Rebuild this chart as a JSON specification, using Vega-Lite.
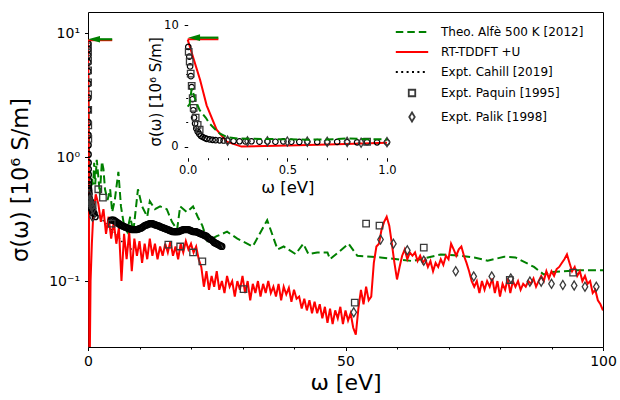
{
  "$schema": "https://vega.github.io/schema/vega-lite/v6.json",
  "width": 515,
  "height": 335,
  "autosize": {"type": "none"},
  "padding": {"left": 88, "top": 12, "right": 17, "bottom": 53},
  "config": {
    "font": "DejaVu Sans",
    "background": "white",
    "view": {"stroke": "black", "strokeWidth": 1},
    "axis": {"grid": false, "domain": false, "tickColor": "black", "tickWidth": 1, "labelColor": "black", "titleColor": "black", "titleFontWeight": "normal", "labelFont": "DejaVu Sans", "titleFont": "DejaVu Sans", "zindex": 1, "labelFlush": false, "labelOverlap": false},
    "legend": {"labelFont": "DejaVu Sans", "labelColor": "black"}
  },
  "datasets": {
    "red": [
      {"x":0,"s":8.8},{"x":0.03,"s":7.2},{"x":0.062,"s":5.5},{"x":0.095,"s":3.4},{"x":0.145,"s":1.4},{"x":0.196,"s":0.41},{"x":0.27,"s":0.012},{"x":0.5,"s":0.1},{"x":0.75,"s":0.2},{"x":1.0,"s":0.33},
      {"x":1.5,"s":0.5},{"x":2,"s":0.42},{"x":2.5,"s":0.3},{"x":3,"s":0.38},{"x":3.5,"s":0.24},{"x":4,"s":0.33},{"x":4.5,"s":0.22},{"x":5,"s":0.3},{"x":5.5,"s":0.2},{"x":6,"s":0.27},
      {"x":6.5,"s":0.1},{"x":7,"s":0.24},{"x":7.5,"s":0.15},{"x":8,"s":0.25},{"x":8.5,"s":0.12},{"x":9,"s":0.22},{"x":9.5,"s":0.16},{"x":10,"s":0.21},{"x":10.5,"s":0.14},{"x":11,"s":0.2},
      {"x":11.5,"s":0.15},{"x":12,"s":0.22},{"x":12.5,"s":0.16},{"x":13,"s":0.2},{"x":13.5,"s":0.15},{"x":14,"s":0.19},{"x":14.5,"s":0.16},{"x":15,"s":0.2},{"x":15.5,"s":0.17},{"x":16,"s":0.21},
      {"x":16.5,"s":0.16},{"x":17,"s":0.19},{"x":17.5,"s":0.15},{"x":18,"s":0.2},{"x":18.5,"s":0.17},{"x":19,"s":0.21},{"x":19.5,"s":0.18},{"x":20,"s":0.2},{"x":20.5,"s":0.17},{"x":21,"s":0.19},
      {"x":21.5,"s":0.15},{"x":22,"s":0.13},{"x":22.5,"s":0.09},{"x":23,"s":0.12},{"x":23.5,"s":0.085},{"x":24,"s":0.11},{"x":24.5,"s":0.09},{"x":25,"s":0.12},{"x":25.5,"s":0.085},{"x":26,"s":0.1},
      {"x":26.5,"s":0.08},{"x":27,"s":0.11},{"x":27.5,"s":0.09},{"x":28,"s":0.1},{"x":28.5,"s":0.075},{"x":29,"s":0.1},{"x":29.5,"s":0.085},{"x":30,"s":0.11},{"x":30.5,"s":0.08},{"x":31,"s":0.1},
      {"x":31.5,"s":0.07},{"x":32,"s":0.095},{"x":32.5,"s":0.08},{"x":33,"s":0.1},{"x":33.5,"s":0.075},{"x":34,"s":0.095},{"x":34.5,"s":0.08},{"x":35,"s":0.1},{"x":35.5,"s":0.08},{"x":36,"s":0.09},
      {"x":36.5,"s":0.075},{"x":37,"s":0.095},{"x":37.5,"s":0.07},{"x":38,"s":0.09},{"x":38.5,"s":0.078},{"x":39,"s":0.088},{"x":39.5,"s":0.068},{"x":40,"s":0.085},{"x":40.5,"s":0.072},{"x":41,"s":0.075},
      {"x":41.5,"s":0.06},{"x":42,"s":0.072},{"x":42.5,"s":0.058},{"x":43,"s":0.07},{"x":43.5,"s":0.055},{"x":44,"s":0.068},{"x":44.5,"s":0.055},{"x":45,"s":0.065},{"x":45.5,"s":0.05},{"x":46,"s":0.062},
      {"x":46.5,"s":0.046},{"x":47,"s":0.06},{"x":47.5,"s":0.045},{"x":48,"s":0.058},{"x":48.5,"s":0.05},{"x":49,"s":0.062},{"x":49.5,"s":0.045},{"x":50,"s":0.058},{"x":50.5,"s":0.048},{"x":51,"s":0.055},
      {"x":51.5,"s":0.042},{"x":52,"s":0.037},{"x":52.5,"s":0.06},{"x":53,"s":0.085},{"x":53.5,"s":0.065},{"x":54,"s":0.09},{"x":54.5,"s":0.07},{"x":55,"s":0.075},{"x":55.5,"s":0.14},{"x":56,"s":0.19},
      {"x":56.5,"s":0.2},{"x":57,"s":0.26},{"x":57.5,"s":0.3},{"x":58,"s":0.33},{"x":58.5,"s":0.28},{"x":59,"s":0.2},{"x":59.5,"s":0.14},{"x":60,"s":0.103},{"x":60.5,"s":0.13},{"x":61,"s":0.16},
      {"x":61.5,"s":0.18},{"x":62,"s":0.15},{"x":62.5,"s":0.17},{"x":63,"s":0.16},{"x":63.5,"s":0.17},{"x":64,"s":0.145},{"x":64.5,"s":0.16},{"x":65,"s":0.14},{"x":65.5,"s":0.15},{"x":66,"s":0.13},
      {"x":66.5,"s":0.145},{"x":67,"s":0.12},{"x":67.5,"s":0.14},{"x":68,"s":0.13},{"x":68.5,"s":0.15},{"x":69,"s":0.135},{"x":69.5,"s":0.16},{"x":70,"s":0.15},{"x":70.5,"s":0.2},{"x":71,"s":0.18},
      {"x":71.5,"s":0.16},{"x":72,"s":0.18},{"x":72.5,"s":0.19},{"x":73,"s":0.16},{"x":73.5,"s":0.14},{"x":74,"s":0.12},{"x":74.5,"s":0.1},{"x":75,"s":0.09},{"x":75.5,"s":0.1},{"x":76,"s":0.08},
      {"x":76.5,"s":0.1},{"x":77,"s":0.085},{"x":77.5,"s":0.1},{"x":78,"s":0.09},{"x":78.5,"s":0.105},{"x":79,"s":0.08},{"x":79.5,"s":0.1},{"x":80,"s":0.075},{"x":80.5,"s":0.095},{"x":81,"s":0.085},
      {"x":81.5,"s":0.105},{"x":82,"s":0.08},{"x":82.5,"s":0.1},{"x":83,"s":0.09},{"x":83.5,"s":0.1},{"x":84,"s":0.085},{"x":84.5,"s":0.095},{"x":85,"s":0.09},{"x":85.5,"s":0.1},{"x":86,"s":0.095},
      {"x":86.5,"s":0.105},{"x":87,"s":0.09},{"x":87.5,"s":0.1},{"x":88,"s":0.11},{"x":88.5,"s":0.1},{"x":89,"s":0.12},{"x":89.5,"s":0.105},{"x":90,"s":0.12},{"x":90.5,"s":0.11},{"x":91,"s":0.125},
      {"x":91.5,"s":0.13},{"x":92,"s":0.14},{"x":92.5,"s":0.15},{"x":93,"s":0.164},{"x":93.5,"s":0.14},{"x":94,"s":0.12},{"x":94.5,"s":0.13},{"x":95,"s":0.11},{"x":95.5,"s":0.12},{"x":96,"s":0.1},
      {"x":96.5,"s":0.11},{"x":97,"s":0.095},{"x":97.5,"s":0.1},{"x":98,"s":0.08},{"x":98.5,"s":0.085},{"x":99,"s":0.07},{"x":99.5,"s":0.065},{"x":100,"s":0.058}
    ],
    "green": [
      {"x":0,"s":3.3},{"x":0.01,"s":3.5},{"x":0.02,"s":4.8},{"x":0.04,"s":3.8},{"x":0.06,"s":3.0},{"x":0.09,"s":2.4},{"x":0.11,"s":1.9},{"x":0.14,"s":1.4},{"x":0.16,"s":1.1},{"x":0.19,"s":0.85},
      {"x":0.21,"s":0.75},{"x":0.25,"s":0.68},{"x":0.3,"s":0.66},{"x":0.4,"s":0.63},{"x":0.5,"s":0.62},{"x":0.6,"s":0.58},{"x":0.7,"s":0.6},{"x":0.8,"s":0.68},{"x":0.9,"s":0.62},{"x":1.0,"s":0.6},
      {"x":1.2,"s":0.9},{"x":1.4,"s":0.6},{"x":1.7,"s":0.95},{"x":2.0,"s":0.7},{"x":2.3,"s":0.5},{"x":2.7,"s":0.92},{"x":3.0,"s":0.8},{"x":3.3,"s":0.55},{"x":3.8,"s":0.45},{"x":4.3,"s":0.55},
      {"x":4.7,"s":0.36},{"x":5.2,"s":0.45},{"x":5.9,"s":0.76},{"x":6.4,"s":0.4},{"x":7.0,"s":0.28},{"x":7.6,"s":0.25},{"x":8.2,"s":0.33},{"x":8.8,"s":0.25},{"x":9.7,"s":0.55},{"x":10.5,"s":0.4},
      {"x":11.5,"s":0.33},{"x":12.0,"s":0.44},{"x":13.0,"s":0.38},{"x":14.0,"s":0.4},{"x":15.3,"s":0.38},{"x":16.3,"s":0.3},{"x":17.3,"s":0.26},{"x":17.9,"s":0.4},{"x":19.2,"s":0.36},{"x":20.4,"s":0.4},
      {"x":21.3,"s":0.33},{"x":22.2,"s":0.28},{"x":23.2,"s":0.21},{"x":25.0,"s":0.23},{"x":27.0,"s":0.25},{"x":29.0,"s":0.22},{"x":32.0,"s":0.19},{"x":34.8,"s":0.31},{"x":36.8,"s":0.18},{"x":38.0,"s":0.19},
      {"x":40.3,"s":0.165},{"x":41.8,"s":0.2},{"x":42.8,"s":0.165},{"x":44.5,"s":0.17},{"x":46.5,"s":0.17},{"x":47.0,"s":0.15},{"x":50.6,"s":0.2},{"x":52.3,"s":0.16},{"x":56.8,"s":0.155},{"x":60.0,"s":0.15},
      {"x":63.0,"s":0.145},{"x":66.0,"s":0.155},{"x":68.5,"s":0.164},{"x":72.4,"s":0.16},{"x":75.0,"s":0.155},{"x":77.6,"s":0.146},{"x":80.8,"s":0.157},{"x":83.0,"s":0.155},{"x":86.6,"s":0.13},{"x":88.5,"s":0.113},
      {"x":90.0,"s":0.118},{"x":92.4,"s":0.12},{"x":95.0,"s":0.122},{"x":100.0,"s":0.122}
    ],
    "cahill": [
      {"x":0.003,"s":8.2},{"x":0.008,"s":7.4},{"x":0.012,"s":6.6},{"x":0.016,"s":5.8},{"x":0.02,"s":4.9},{"x":0.024,"s":3.9},{"x":0.028,"s":3.0},{"x":0.032,"s":2.4},{"x":0.037,"s":1.9},{"x":0.043,"s":1.5},
      {"x":0.05,"s":1.25},{"x":0.058,"s":1.05},{"x":0.066,"s":0.9},{"x":0.075,"s":0.8},{"x":0.085,"s":0.72},{"x":0.095,"s":0.65},{"x":0.11,"s":0.6},{"x":0.125,"s":0.56},{"x":0.14,"s":0.54},{"x":0.16,"s":0.53},
      {"x":0.18,"s":0.51},{"x":0.2,"s":0.5},{"x":0.23,"s":0.47},{"x":0.26,"s":0.45},{"x":0.29,"s":0.44},{"x":0.32,"s":0.45},{"x":0.36,"s":0.42},{"x":0.4,"s":0.43},{"x":0.44,"s":0.41},{"x":0.48,"s":0.44},
      {"x":0.52,"s":0.41},{"x":0.56,"s":0.4},{"x":0.6,"s":0.41},{"x":0.65,"s":0.39},{"x":0.7,"s":0.38},{"x":0.75,"s":0.4},{"x":0.8,"s":0.38},{"x":0.85,"s":0.36},{"x":0.9,"s":0.38},{"x":0.95,"s":0.36},
      {"x":1.0,"s":0.36},{"x":1.5,"s":0.35},{"x":2.5,"s":0.32},{"x":3.5,"s":0.29},{"x":4.5,"s":0.26},{"x":5.5,"s":0.24},{"x":6.5,"s":0.21},{"x":7.5,"s":0.19},{"x":8.5,"s":0.18}
    ],
    "circles": [
      {"x":0.003,"s":8.2},{"x":0.008,"s":7.4},{"x":0.012,"s":6.6},{"x":0.016,"s":5.8},{"x":0.02,"s":4.9},{"x":0.024,"s":3.9},{"x":0.028,"s":3.0},{"x":0.032,"s":2.4},{"x":0.037,"s":1.9},{"x":0.043,"s":1.5},
      {"x":0.05,"s":1.25},{"x":0.058,"s":1.05},{"x":0.066,"s":0.9},{"x":0.075,"s":0.8},{"x":0.085,"s":0.72},{"x":0.095,"s":0.65},{"x":0.11,"s":0.6},{"x":0.125,"s":0.56},{"x":0.14,"s":0.54},{"x":0.16,"s":0.53},
      {"x":0.18,"s":0.51},{"x":0.2,"s":0.5},{"x":0.23,"s":0.47},{"x":0.26,"s":0.45},{"x":0.29,"s":0.44},{"x":0.32,"s":0.45},{"x":0.36,"s":0.42},{"x":0.4,"s":0.43},{"x":0.44,"s":0.41},{"x":0.48,"s":0.44},
      {"x":0.52,"s":0.41},{"x":0.56,"s":0.4},{"x":0.6,"s":0.41},{"x":0.65,"s":0.39},{"x":0.7,"s":0.38},{"x":0.75,"s":0.4},{"x":0.8,"s":0.38},{"x":0.85,"s":0.36},{"x":0.9,"s":0.38},{"x":0.95,"s":0.36},
      {"x":1.0,"s":0.36},{"x":1.2,"s":0.35},{"x":1.4,"s":0.33},
      {"x":4.5,"s":0.31},{"x":4.75,"s":0.31},{"x":5,"s":0.31},{"x":5.25,"s":0.305},{"x":5.5,"s":0.3},{"x":5.75,"s":0.295},{"x":6,"s":0.29},{"x":6.25,"s":0.285},{"x":6.5,"s":0.28},{"x":6.75,"s":0.278},
      {"x":7,"s":0.275},{"x":7.25,"s":0.272},{"x":7.5,"s":0.27},{"x":7.75,"s":0.267},{"x":8,"s":0.265},{"x":8.25,"s":0.262},{"x":8.5,"s":0.26},{"x":8.75,"s":0.26},{"x":9,"s":0.26},{"x":9.25,"s":0.26},
      {"x":9.5,"s":0.26},{"x":9.75,"s":0.262},{"x":10,"s":0.265},{"x":10.25,"s":0.267},{"x":10.5,"s":0.27},{"x":10.75,"s":0.275},{"x":11,"s":0.28},{"x":11.25,"s":0.282},{"x":11.5,"s":0.285},{"x":11.75,"s":0.288},
      {"x":12,"s":0.29},{"x":12.25,"s":0.29},{"x":12.5,"s":0.29},{"x":12.75,"s":0.288},{"x":13,"s":0.285},{"x":13.25,"s":0.282},{"x":13.5,"s":0.28},{"x":13.75,"s":0.278},{"x":14,"s":0.275},{"x":14.25,"s":0.272},
      {"x":14.5,"s":0.27},{"x":14.75,"s":0.267},{"x":15,"s":0.265},{"x":15.25,"s":0.262},{"x":15.5,"s":0.26},{"x":15.75,"s":0.257},{"x":16,"s":0.255},{"x":16.25,"s":0.252},{"x":16.5,"s":0.25},{"x":16.75,"s":0.25},
      {"x":17,"s":0.25},{"x":17.25,"s":0.25},{"x":17.5,"s":0.25},{"x":17.75,"s":0.252},{"x":18,"s":0.255},{"x":18.25,"s":0.257},{"x":18.5,"s":0.26},{"x":18.75,"s":0.26},{"x":19,"s":0.26},{"x":19.25,"s":0.26},
      {"x":19.5,"s":0.26},{"x":19.75,"s":0.258},{"x":20,"s":0.255},{"x":20.25,"s":0.252},{"x":20.5,"s":0.25},{"x":20.75,"s":0.25},{"x":21,"s":0.25},{"x":21.25,"s":0.247},{"x":21.5,"s":0.245},{"x":21.75,"s":0.242},
      {"x":22,"s":0.24},{"x":22.25,"s":0.237},{"x":22.5,"s":0.235},{"x":22.75,"s":0.232},{"x":23,"s":0.23},{"x":23.25,"s":0.225},{"x":23.5,"s":0.22},{"x":23.75,"s":0.217},{"x":24,"s":0.215},{"x":24.25,"s":0.21},
      {"x":24.5,"s":0.205},{"x":24.75,"s":0.202},{"x":25,"s":0.2},{"x":25.25,"s":0.197},{"x":25.5,"s":0.195},{"x":25.75,"s":0.192},{"x":26,"s":0.19}
    ],
    "markers": [
      {"series":"Expt. Paquin [1995]","x":0.005,"s":7.8},{"series":"Expt. Paquin [1995]","x":0.01,"s":7.0},{"series":"Expt. Paquin [1995]","x":0.015,"s":6.0},{"series":"Expt. Paquin [1995]","x":0.02,"s":5.0},{"series":"Expt. Paquin [1995]","x":0.025,"s":4.0},
      {"series":"Expt. Paquin [1995]","x":0.03,"s":3.2},{"series":"Expt. Paquin [1995]","x":0.04,"s":2.4},{"series":"Expt. Paquin [1995]","x":0.05,"s":1.8},{"series":"Expt. Paquin [1995]","x":0.06,"s":1.4},{"series":"Expt. Paquin [1995]","x":0.9,"s":0.41},
      {"series":"Expt. Paquin [1995]","x":2.0,"s":0.55},{"series":"Expt. Paquin [1995]","x":2.9,"s":0.47},{"series":"Expt. Paquin [1995]","x":4.6,"s":0.29},{"series":"Expt. Paquin [1995]","x":15.6,"s":0.197},{"series":"Expt. Paquin [1995]","x":17.9,"s":0.19},
      {"series":"Expt. Paquin [1995]","x":20.4,"s":0.17},{"series":"Expt. Paquin [1995]","x":22.2,"s":0.144},{"series":"Expt. Paquin [1995]","x":30.2,"s":0.086},{"series":"Expt. Paquin [1995]","x":51.8,"s":0.067},{"series":"Expt. Paquin [1995]","x":54.0,"s":0.29},
      {"series":"Expt. Paquin [1995]","x":56.6,"s":0.28},{"series":"Expt. Paquin [1995]","x":65.2,"s":0.186},{"series":"Expt. Paquin [1995]","x":81.9,"s":0.102},{"series":"Expt. Paquin [1995]","x":94.2,"s":0.117},
      {"series":"Expt. Palik [1998]","x":0.2,"s":0.5},{"series":"Expt. Palik [1998]","x":0.3,"s":0.45},{"series":"Expt. Palik [1998]","x":0.4,"s":0.45},{"series":"Expt. Palik [1998]","x":0.5,"s":0.43},{"series":"Expt. Palik [1998]","x":0.6,"s":0.42},
      {"series":"Expt. Palik [1998]","x":0.7,"s":0.4},{"series":"Expt. Palik [1998]","x":0.8,"s":0.4},{"series":"Expt. Palik [1998]","x":0.87,"s":0.33},{"series":"Expt. Palik [1998]","x":1.0,"s":0.38},{"series":"Expt. Palik [1998]","x":51.6,"s":0.056},
      {"series":"Expt. Palik [1998]","x":56.8,"s":0.216},{"series":"Expt. Palik [1998]","x":59.3,"s":0.2},{"series":"Expt. Palik [1998]","x":62.0,"s":0.177},{"series":"Expt. Palik [1998]","x":65.2,"s":0.146},{"series":"Expt. Palik [1998]","x":71.4,"s":0.12},
      {"series":"Expt. Palik [1998]","x":74.9,"s":0.109},{"series":"Expt. Palik [1998]","x":78.4,"s":0.109},{"series":"Expt. Palik [1998]","x":82.1,"s":0.105},{"series":"Expt. Palik [1998]","x":85.8,"s":0.099},{"series":"Expt. Palik [1998]","x":88.0,"s":0.099},
      {"series":"Expt. Palik [1998]","x":90.0,"s":0.095},{"series":"Expt. Palik [1998]","x":92.2,"s":0.093},{"series":"Expt. Palik [1998]","x":94.4,"s":0.092},{"series":"Expt. Palik [1998]","x":96.5,"s":0.09},{"series":"Expt. Palik [1998]","x":98.7,"s":0.09}
    ],
    "arrowsMain": [
      {"kind":"red","x":0,"x2":4.7,"s":8.75},
      {"kind":"green","x":1.17,"x2":4.7,"s":8.9}
    ],
    "headMain": [{"x":1.17,"s":8.9}],
    "arrowsInset": [
      {"kind":"red","x":0,"x2":0.154,"s":8.83},
      {"kind":"green","x":0.032,"x2":0.154,"s":8.96}
    ],
    "headInset": [{"x":0.032,"s":8.96}]
  },
  "layer": [
    {
      "encoding": {
        "x": {"field": "x", "type": "quantitative",
          "scale": {"domain": [0, 100], "nice": false, "zero": false},
          "axis": {"title": "ω [eV]", "values": [0,10,20,30,40,50,60,70,80,90,100],
            "labelExpr": "datum.value % 50 === 0 ? datum.label : ''",
            "tickSize": {"condition": {"test": "datum.value % 50 === 0", "value": 3.5}, "value": 2},
            "labelFontSize": 14, "titleFontSize": 22, "labelPadding": 4, "titlePadding": 4}},
        "y": {"field": "s", "type": "quantitative",
          "scale": {"type": "log", "domain": [0.0294, 14.77], "nice": false},
          "axis": {"title": "σ(ω) [10⁶ S/m]", "values": [0.1, 1, 10],
            "labelExpr": "datum.value > 5 ? '10¹' : datum.value > 0.5 ? '10⁰' : '10⁻¹'",
            "tickSize": 3.5, "labelFontSize": 14, "titleFontSize": 22.5, "labelPadding": 5, "titlePadding": 16}}
      },
      "layer": [
        {"data": {"name": "green"}, "mark": {"type": "line", "color": "green", "strokeWidth": 2, "strokeDash": [8, 4], "clip": true}},
        {"data": {"name": "cahill"}, "mark": {"type": "line", "color": "black", "strokeWidth": 1.5, "strokeDash": [1.5, 2.5], "clip": true}},
        {"data": {"name": "red"}, "mark": {"type": "line", "color": "red", "strokeWidth": 2, "clip": true}},
        {"data": {"name": "circles"}, "mark": {"type": "point", "shape": "circle", "filled": false, "size": 34, "strokeWidth": 1.4, "color": "black", "opacity": 1, "clip": true}},
        {"data": {"name": "markers"},
          "mark": {"type": "point", "filled": false, "size": 42, "strokeWidth": 1.3, "opacity": 1, "clip": true},
          "encoding": {
            "color": {"field": "series", "type": "nominal",
              "scale": {"domain": ["Theo. Alfè 500 K [2012]", "RT-TDDFT +U", "Expt. Cahill [2019]", "Expt. Paquin [1995]", "Expt. Palik [1998]"], "range": ["green", "red", "black", "#3a3a3a", "#3a3a3a"]},
              "legend": {"title": null, "orient": "none", "legendX": 318, "legendY": 14, "labelFontSize": 12, "labelOffset": 23, "rowPadding": 8, "symbolSize": 42, "symbolStrokeWidth": 1.8, "padding": 0}},
            "shape": {"field": "series", "type": "nominal",
              "scale": {"domain": ["Theo. Alfè 500 K [2012]", "RT-TDDFT +U", "Expt. Cahill [2019]", "Expt. Paquin [1995]", "Expt. Palik [1998]"], "range": ["M-5,0H5", "M-5,0H5", "M-5,0H5", "square", "M0,-1.4L0.85,0L0,1.4L-0.85,0Z"]},
              "legend": {"title": null, "orient": "none", "legendX": 318, "legendY": 14, "labelFontSize": 12, "labelOffset": 23, "rowPadding": 8, "symbolSize": 42, "symbolStrokeWidth": 1.8, "padding": 0}},
            "strokeDash": {"field": "series", "type": "nominal",
              "scale": {"domain": ["Theo. Alfè 500 K [2012]", "RT-TDDFT +U", "Expt. Cahill [2019]", "Expt. Paquin [1995]", "Expt. Palik [1998]"], "range": [[7.5, 4], [1, 0], [2, 3.4], [1, 0], [1, 0]]},
              "legend": {"title": null, "orient": "none", "legendX": 318, "legendY": 14, "labelFontSize": 12, "labelOffset": 23, "rowPadding": 8, "symbolSize": 42, "symbolStrokeWidth": 1.8, "padding": 0}}
          }},
        {"data": {"name": "arrowsMain"}, "transform": [{"filter": "datum.kind === 'red'"}], "mark": {"type": "rule", "color": "red", "strokeWidth": 2}, "encoding": {"x2": {"field": "x2"}}},
        {"data": {"name": "arrowsMain"}, "transform": [{"filter": "datum.kind === 'green'"}], "mark": {"type": "rule", "color": "green", "strokeWidth": 2.2}, "encoding": {"x2": {"field": "x2"}}},
        {"data": {"name": "headMain"}, "mark": {"type": "point", "shape": "M-1,0L1,-0.55L1,0.55Z", "size": 144, "filled": true, "color": "green", "opacity": 1}}
      ]
    },
    {
      "encoding": {
        "x": {"field": "x", "type": "quantitative",
          "scale": {"domain": [0, 1], "range": [99.7, 299], "nice": false, "zero": false},
          "axis": {"orient": "bottom", "offset": -189.3, "title": "ω [eV]", "values": [0,0.1,0.2,0.3,0.4,0.5,0.6,0.7,0.8,0.9,1],
            "labelExpr": "(datum.value === 0 || datum.value === 0.5 || datum.value === 1) ? format(datum.value, '.1f') : ''",
            "tickSize": {"condition": {"test": "datum.value === 0 || datum.value === 0.5 || datum.value === 1", "value": 3.5}, "value": 2},
            "labelFontSize": 11.5, "titleFontSize": 16.5, "labelPadding": 3, "titlePadding": 4}},
        "y": {"field": "s", "type": "quantitative",
          "scale": {"domain": [-0.9, 10], "range": [145.7, 13], "nice": false, "zero": false},
          "axis": {"orient": "left", "offset": -99.7, "title": "σ(ω) [10⁶ S/m]", "values": [0, 2, 4, 6, 8, 10],
            "labelExpr": "(datum.value === 0 || datum.value === 10) ? datum.label : ''",
            "tickSize": {"condition": {"test": "datum.value === 0 || datum.value === 10", "value": 3.5}, "value": 2},
            "labelFontSize": 11.5, "titleFontSize": 15, "labelPadding": 6, "titlePadding": 0}}
      },
      "layer": [
        {"data": {"values": [{}]}, "mark": {"type": "rect", "fill": "white", "stroke": "black", "strokeWidth": 1},
          "encoding": {"x": {"datum": 0}, "x2": {"datum": 1}, "y": {"datum": -0.9}, "y2": {"datum": 10}}},
        {"data": {"name": "red"}, "transform": [{"filter": "datum.x <= 1"}], "mark": {"type": "line", "color": "red", "strokeWidth": 2}},
        {"data": {"name": "circles"}, "transform": [{"filter": "datum.x <= 1"}], "mark": {"type": "point", "shape": "circle", "filled": false, "size": 30, "strokeWidth": 1.2, "color": "black", "opacity": 1}},
        {"data": {"name": "markers"}, "transform": [{"filter": "datum.x <= 1 && datum.series === 'Expt. Paquin [1995]'"}], "mark": {"type": "point", "shape": "square", "filled": false, "size": 42, "strokeWidth": 1.3, "color": "#3a3a3a", "opacity": 1}},
        {"data": {"name": "markers"}, "transform": [{"filter": "datum.x <= 1 && datum.series === 'Expt. Palik [1998]'"}], "mark": {"type": "point", "shape": "M0,-1.4L0.85,0L0,1.4L-0.85,0Z", "filled": false, "size": 42, "strokeWidth": 1.3, "color": "#3a3a3a", "opacity": 1}},
        {"data": {"name": "green"}, "transform": [{"filter": "datum.x <= 1"}], "mark": {"type": "line", "color": "green", "strokeWidth": 2, "strokeDash": [8, 4]}},
        {"data": {"name": "arrowsInset"}, "transform": [{"filter": "datum.kind === 'red'"}], "mark": {"type": "rule", "color": "red", "strokeWidth": 2}, "encoding": {"x2": {"field": "x2"}}},
        {"data": {"name": "arrowsInset"}, "transform": [{"filter": "datum.kind === 'green'"}], "mark": {"type": "rule", "color": "green", "strokeWidth": 2.2}, "encoding": {"x2": {"field": "x2"}}},
        {"data": {"name": "headInset"}, "mark": {"type": "point", "shape": "M-1,0L1,-0.55L1,0.55Z", "size": 144, "filled": true, "color": "green", "opacity": 1}}
      ]
    }
  ],
  "resolve": {"scale": {"x": "independent", "y": "independent"}, "axis": {"x": "independent", "y": "independent"}}
}
